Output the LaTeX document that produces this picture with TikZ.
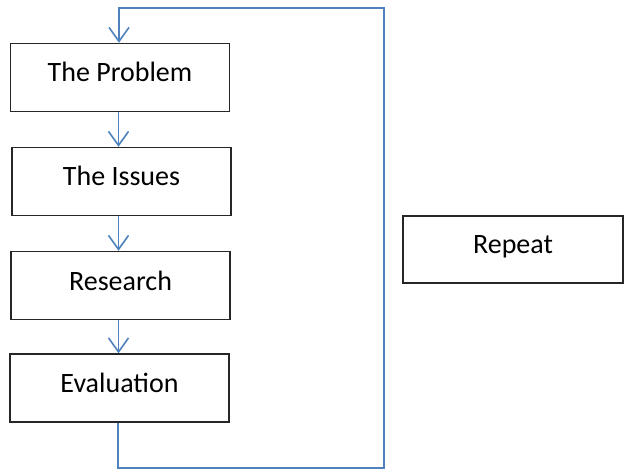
\documentclass[tikz,border=0pt]{standalone}
\usepackage{fontspec}
\setmainfont{Carlito}
\usetikzlibrary{arrows.meta}
\definecolor{lineblue}{HTML}{4F81BD}
\begin{document}
\begin{tikzpicture}[x=1pt,y=-1pt,
  stepbox/.style={draw=black!85,line width=1.4pt,minimum width=219pt,minimum height=68pt,inner sep=0pt,text height=18pt,text depth=9pt,font=\fontsize{28}{32}\selectfont},
  flow/.style={draw=lineblue,line width=1.6pt,-{Straight Barb[length=14pt,width=20pt,line width=1.6pt]}},
  loop/.style={draw=lineblue,line width=2.4pt}]
\useasboundingbox (0,0) rectangle (626,470);
\node[stepbox] (p) at (120,77.5) {The Problem};
\node[stepbox] (i) at (121.5,181.5) {The Issues};
\node[stepbox] (r) at (120.5,285.5) {Research};
\node[stepbox] (e) at (119.5,388) {Evaluation};
\node[stepbox,minimum width=220pt,minimum height=67pt] (rep) at (513,249.5) {Repeat};
\coordinate (c1) at (118,468);
\coordinate (c2) at (384,468);
\coordinate (c3) at (384,8);
\coordinate (c4) at (119,8);
\coordinate (ax) at (118.5,0);
\draw[flow] (ax |- p.south) -- (ax |- i.north);
\draw[flow] (ax |- i.south) -- (ax |- r.north);
\draw[flow] (ax |- r.south) -- (ax |- e.north);
\draw[loop] (e.south -| c1) -- (c1) -- (c2) -- (c3) -- (c4) -- ([yshift=-8pt]c4);
\draw[flow] ([yshift=-6pt]c4) -- (c4 |- p.north);
\end{tikzpicture}
\end{document}
